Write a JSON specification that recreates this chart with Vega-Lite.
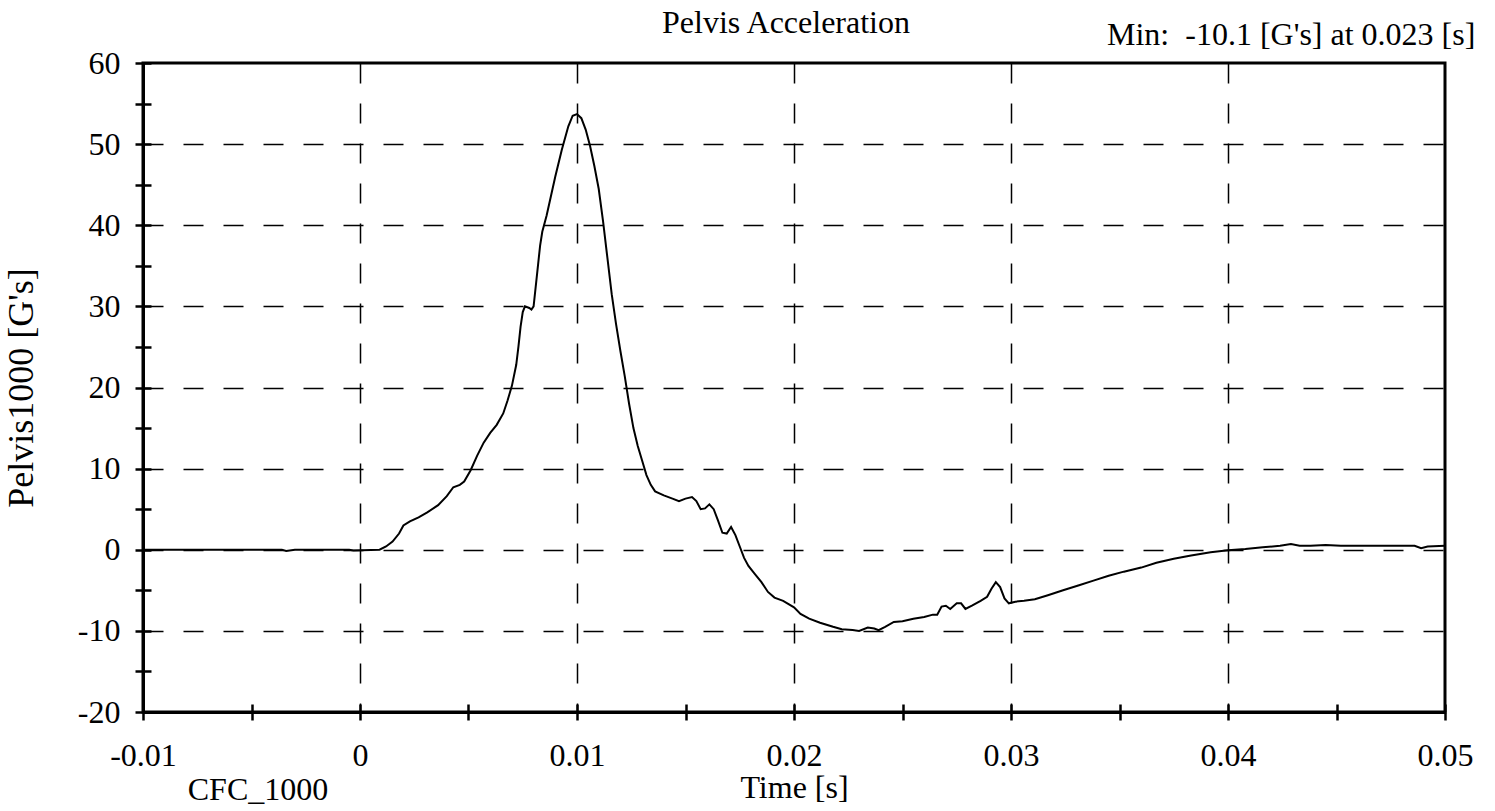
{
  "$schema": "https://vega.github.io/schema/vega-lite/v6.json",
  "width": 1302,
  "height": 649,
  "autosize": {"type": "none"},
  "padding": {"left": 143, "top": 63, "right": 50, "bottom": 99},
  "background": "white",
  "config": {
    "font": "Liberation Serif",
    "view": {"stroke": "black", "strokeWidth": 3},
    "axis": {"domainColor": "black", "tickColor": "black", "labelColor": "black", "titleColor": "black", "labelFont": "Liberation Serif", "titleFont": "Liberation Serif", "titleFontWeight": "normal"}
  },
  "title": {"text": "Pelvis Acceleration", "font": "Liberation Serif", "fontSize": 32, "fontWeight": "normal", "color": "black", "anchor": "middle", "offset": -21, "dx": -8},
  "datasets": {
    "curve": [
      {"t": -0.01, "g": 0}, {"t": -0.0036, "g": 0}, {"t": -0.0034, "g": -0.15}, {"t": -0.003, "g": 0},
      {"t": -0.0005, "g": 0}, {"t": -0.0003, "g": -0.1}, {"t": 0.0009, "g": 0}, {"t": 0.0012, "g": 0.4},
      {"t": 0.0015, "g": 1.0}, {"t": 0.0018, "g": 2.0}, {"t": 0.002, "g": 3.0}, {"t": 0.0023, "g": 3.5},
      {"t": 0.0027, "g": 4.0}, {"t": 0.0031, "g": 4.6}, {"t": 0.0036, "g": 5.5}, {"t": 0.004, "g": 6.6},
      {"t": 0.0043, "g": 7.7}, {"t": 0.0046, "g": 8.0}, {"t": 0.0048, "g": 8.4}, {"t": 0.0051, "g": 9.8},
      {"t": 0.0054, "g": 11.6}, {"t": 0.0057, "g": 13.2}, {"t": 0.006, "g": 14.4}, {"t": 0.0063, "g": 15.4},
      {"t": 0.0066, "g": 16.8}, {"t": 0.0068, "g": 18.4}, {"t": 0.007, "g": 20.2}, {"t": 0.0072, "g": 22.8},
      {"t": 0.0073, "g": 25.0}, {"t": 0.0074, "g": 27.5}, {"t": 0.0075, "g": 29.3}, {"t": 0.0076, "g": 30.0},
      {"t": 0.0078, "g": 29.8}, {"t": 0.0079, "g": 29.6}, {"t": 0.008, "g": 30.0}, {"t": 0.0081, "g": 32.5},
      {"t": 0.0082, "g": 35.0}, {"t": 0.0083, "g": 37.5}, {"t": 0.0084, "g": 39.2}, {"t": 0.0086, "g": 41.2},
      {"t": 0.0088, "g": 43.6}, {"t": 0.009, "g": 46.0}, {"t": 0.0093, "g": 49.3}, {"t": 0.0096, "g": 52.2},
      {"t": 0.0098, "g": 53.5}, {"t": 0.01, "g": 53.7}, {"t": 0.0102, "g": 53.2}, {"t": 0.0104, "g": 51.8},
      {"t": 0.0106, "g": 49.8}, {"t": 0.0108, "g": 47.3}, {"t": 0.011, "g": 44.5}, {"t": 0.0112, "g": 40.5},
      {"t": 0.0114, "g": 36.0}, {"t": 0.0116, "g": 31.5}, {"t": 0.0118, "g": 27.8}, {"t": 0.012, "g": 24.5},
      {"t": 0.0122, "g": 21.4}, {"t": 0.0124, "g": 18.0}, {"t": 0.0126, "g": 15.0}, {"t": 0.0128, "g": 12.8},
      {"t": 0.013, "g": 11.0}, {"t": 0.0132, "g": 9.2}, {"t": 0.0134, "g": 8.0}, {"t": 0.0136, "g": 7.2},
      {"t": 0.014, "g": 6.7}, {"t": 0.0144, "g": 6.3}, {"t": 0.0147, "g": 6.0}, {"t": 0.015, "g": 6.3},
      {"t": 0.0153, "g": 6.5}, {"t": 0.0155, "g": 6.0}, {"t": 0.0157, "g": 5.0}, {"t": 0.0159, "g": 5.1},
      {"t": 0.0161, "g": 5.6}, {"t": 0.0163, "g": 5.0}, {"t": 0.0165, "g": 3.6}, {"t": 0.0167, "g": 2.1},
      {"t": 0.0169, "g": 2.0}, {"t": 0.0171, "g": 2.8}, {"t": 0.0173, "g": 1.8}, {"t": 0.0175, "g": 0.4},
      {"t": 0.0177, "g": -1.0}, {"t": 0.0179, "g": -2.0}, {"t": 0.0182, "g": -3.0}, {"t": 0.0185, "g": -4.0},
      {"t": 0.0188, "g": -5.2}, {"t": 0.0191, "g": -5.9}, {"t": 0.0195, "g": -6.3}, {"t": 0.02, "g": -7.1},
      {"t": 0.0203, "g": -7.9}, {"t": 0.0207, "g": -8.5}, {"t": 0.0212, "g": -9.0}, {"t": 0.0218, "g": -9.5},
      {"t": 0.0222, "g": -9.8}, {"t": 0.0227, "g": -9.9}, {"t": 0.023, "g": -10.0}, {"t": 0.0234, "g": -9.6},
      {"t": 0.0237, "g": -9.7}, {"t": 0.0239, "g": -9.9}, {"t": 0.0242, "g": -9.5}, {"t": 0.0246, "g": -8.9},
      {"t": 0.025, "g": -8.8}, {"t": 0.0255, "g": -8.5}, {"t": 0.026, "g": -8.3}, {"t": 0.0264, "g": -8.0},
      {"t": 0.0266, "g": -8.0}, {"t": 0.0268, "g": -7.0}, {"t": 0.027, "g": -6.9}, {"t": 0.0272, "g": -7.3},
      {"t": 0.0275, "g": -6.6}, {"t": 0.0277, "g": -6.6}, {"t": 0.0279, "g": -7.3}, {"t": 0.0282, "g": -6.9},
      {"t": 0.0286, "g": -6.3}, {"t": 0.0289, "g": -5.8}, {"t": 0.0291, "g": -4.8}, {"t": 0.0293, "g": -4.0},
      {"t": 0.0295, "g": -4.6}, {"t": 0.0297, "g": -6.0}, {"t": 0.0299, "g": -6.6}, {"t": 0.0302, "g": -6.4},
      {"t": 0.0306, "g": -6.3}, {"t": 0.0311, "g": -6.1}, {"t": 0.0317, "g": -5.6}, {"t": 0.0324, "g": -5.0},
      {"t": 0.0331, "g": -4.4}, {"t": 0.0338, "g": -3.8}, {"t": 0.0345, "g": -3.2}, {"t": 0.0352, "g": -2.7},
      {"t": 0.036, "g": -2.2}, {"t": 0.0367, "g": -1.6}, {"t": 0.0375, "g": -1.1}, {"t": 0.0383, "g": -0.7},
      {"t": 0.0392, "g": -0.3}, {"t": 0.04, "g": -0.05}, {"t": 0.0408, "g": 0.1}, {"t": 0.0416, "g": 0.3},
      {"t": 0.0424, "g": 0.5}, {"t": 0.0429, "g": 0.7}, {"t": 0.0433, "g": 0.5}, {"t": 0.0438, "g": 0.5},
      {"t": 0.0445, "g": 0.6}, {"t": 0.0452, "g": 0.5}, {"t": 0.046, "g": 0.5}, {"t": 0.047, "g": 0.5},
      {"t": 0.048, "g": 0.5}, {"t": 0.0486, "g": 0.5}, {"t": 0.0489, "g": 0.2}, {"t": 0.0492, "g": 0.4},
      {"t": 0.05, "g": 0.5}
    ]
  },
  "resolve": {"axis": {"x": "independent", "y": "independent"}},
  "layer": [
    {
      "data": {"name": "curve"},
      "mark": {"type": "line", "strokeOpacity": 0},
      "encoding": {
        "x": {"field": "t", "type": "quantitative", "scale": {"domain": [-0.01, 0.05], "nice": false, "zero": false},
              "axis": {"orient": "bottom", "values": [0, 0.01, 0.02, 0.03, 0.04], "grid": true, "gridDash": [20, 20], "gridColor": "black", "gridWidth": 1.5, "gridOpacity": 1, "ticks": false, "labels": false, "domain": false, "title": null}},
        "y": {"field": "g", "type": "quantitative", "scale": {"domain": [-20, 60], "nice": false, "zero": false},
              "axis": {"orient": "left", "values": [-10, 0, 10, 20, 30, 40, 50], "grid": true, "gridDash": [20, 20], "gridColor": "black", "gridWidth": 1.5, "gridOpacity": 1, "ticks": false, "labels": false, "domain": false, "title": null}}
      }
    },
    {
      "data": {"name": "curve"},
      "mark": {"type": "line", "strokeOpacity": 0},
      "encoding": {
        "x": {"field": "t", "type": "quantitative", "scale": {"domain": [-0.01, 0.05], "nice": false, "zero": false},
              "axis": {"orient": "bottom", "values": [-0.01, -0.005, 0, 0.005, 0.01, 0.015, 0.02, 0.025, 0.03, 0.035, 0.04, 0.045, 0.05], "grid": false, "ticks": true, "tickWidth": 2.5, "tickSize": -8, "labels": false, "domain": false, "title": null}},
        "y": {"field": "g", "type": "quantitative", "scale": {"domain": [-20, 60], "nice": false, "zero": false},
              "axis": {"orient": "left", "values": [-20, -15, -10, -5, 0, 5, 10, 15, 20, 25, 30, 35, 40, 45, 50, 55, 60], "grid": false, "ticks": true, "tickWidth": 2.5, "tickSize": -8, "labels": false, "domain": false, "title": null}}
      }
    },
    {
      "data": {"name": "curve"},
      "mark": {"type": "line", "color": "black", "strokeWidth": 2},
      "encoding": {
        "x": {"field": "t", "type": "quantitative", "scale": {"domain": [-0.01, 0.05], "nice": false, "zero": false},
              "axis": {"orient": "bottom", "values": [-0.01, -0.005, 0, 0.005, 0.01, 0.015, 0.02, 0.025, 0.03, 0.035, 0.04, 0.045, 0.05],
                       "labelExpr": "round(datum.value*1000) % 10 == 0 ? '' + datum.value : ''",
                       "grid": false, "domainWidth": 3, "tickWidth": 2.5, "tickSize": 8, "labelFontSize": 32, "labelPadding": 20, "labelFlush": false, "labelOverlap": false,
                       "title": "Time [s]", "titleFontSize": 32, "titlePadding": 1}},
        "y": {"field": "g", "type": "quantitative", "scale": {"domain": [-20, 60], "nice": false, "zero": false},
              "axis": {"orient": "left", "values": [-20, -15, -10, -5, 0, 5, 10, 15, 20, 25, 30, 35, 40, 45, 50, 55, 60],
                       "labelExpr": "datum.value % 10 == 0 ? '' + datum.value : ''",
                       "grid": false, "domainWidth": 3, "tickWidth": 2.5, "tickSize": 8, "labelFontSize": 32, "labelPadding": 15, "labelFlush": false, "labelOverlap": false,
                       "title": "Pelvis1000 [G's]", "titleFontSize": 36, "titlePadding": 37}}
      }
    },
    {
      "data": {"values": [{"t": -0.0047, "g": -29.6, "label": "CFC_1000"}]},
      "mark": {"type": "text", "font": "Liberation Serif", "fontSize": 32, "color": "black", "align": "center", "baseline": "middle"},
      "encoding": {
        "x": {"field": "t", "type": "quantitative", "scale": {"domain": [-0.01, 0.05], "nice": false, "zero": false}, "axis": null},
        "y": {"field": "g", "type": "quantitative", "scale": {"domain": [-20, 60], "nice": false, "zero": false}, "axis": null},
        "text": {"field": "label"}
      }
    },
    {
      "data": {"values": [{"t": 0.0514, "g": 63.5, "label": "Min:\u00a0\u00a0-10.1 [G's] at 0.023 [s]"}]},
      "mark": {"type": "text", "font": "Liberation Serif", "fontSize": 32, "color": "black", "align": "right", "baseline": "middle"},
      "encoding": {
        "x": {"field": "t", "type": "quantitative", "scale": {"domain": [-0.01, 0.05], "nice": false, "zero": false}, "axis": null},
        "y": {"field": "g", "type": "quantitative", "scale": {"domain": [-20, 60], "nice": false, "zero": false}, "axis": null},
        "text": {"field": "label"}
      }
    }
  ]
}
